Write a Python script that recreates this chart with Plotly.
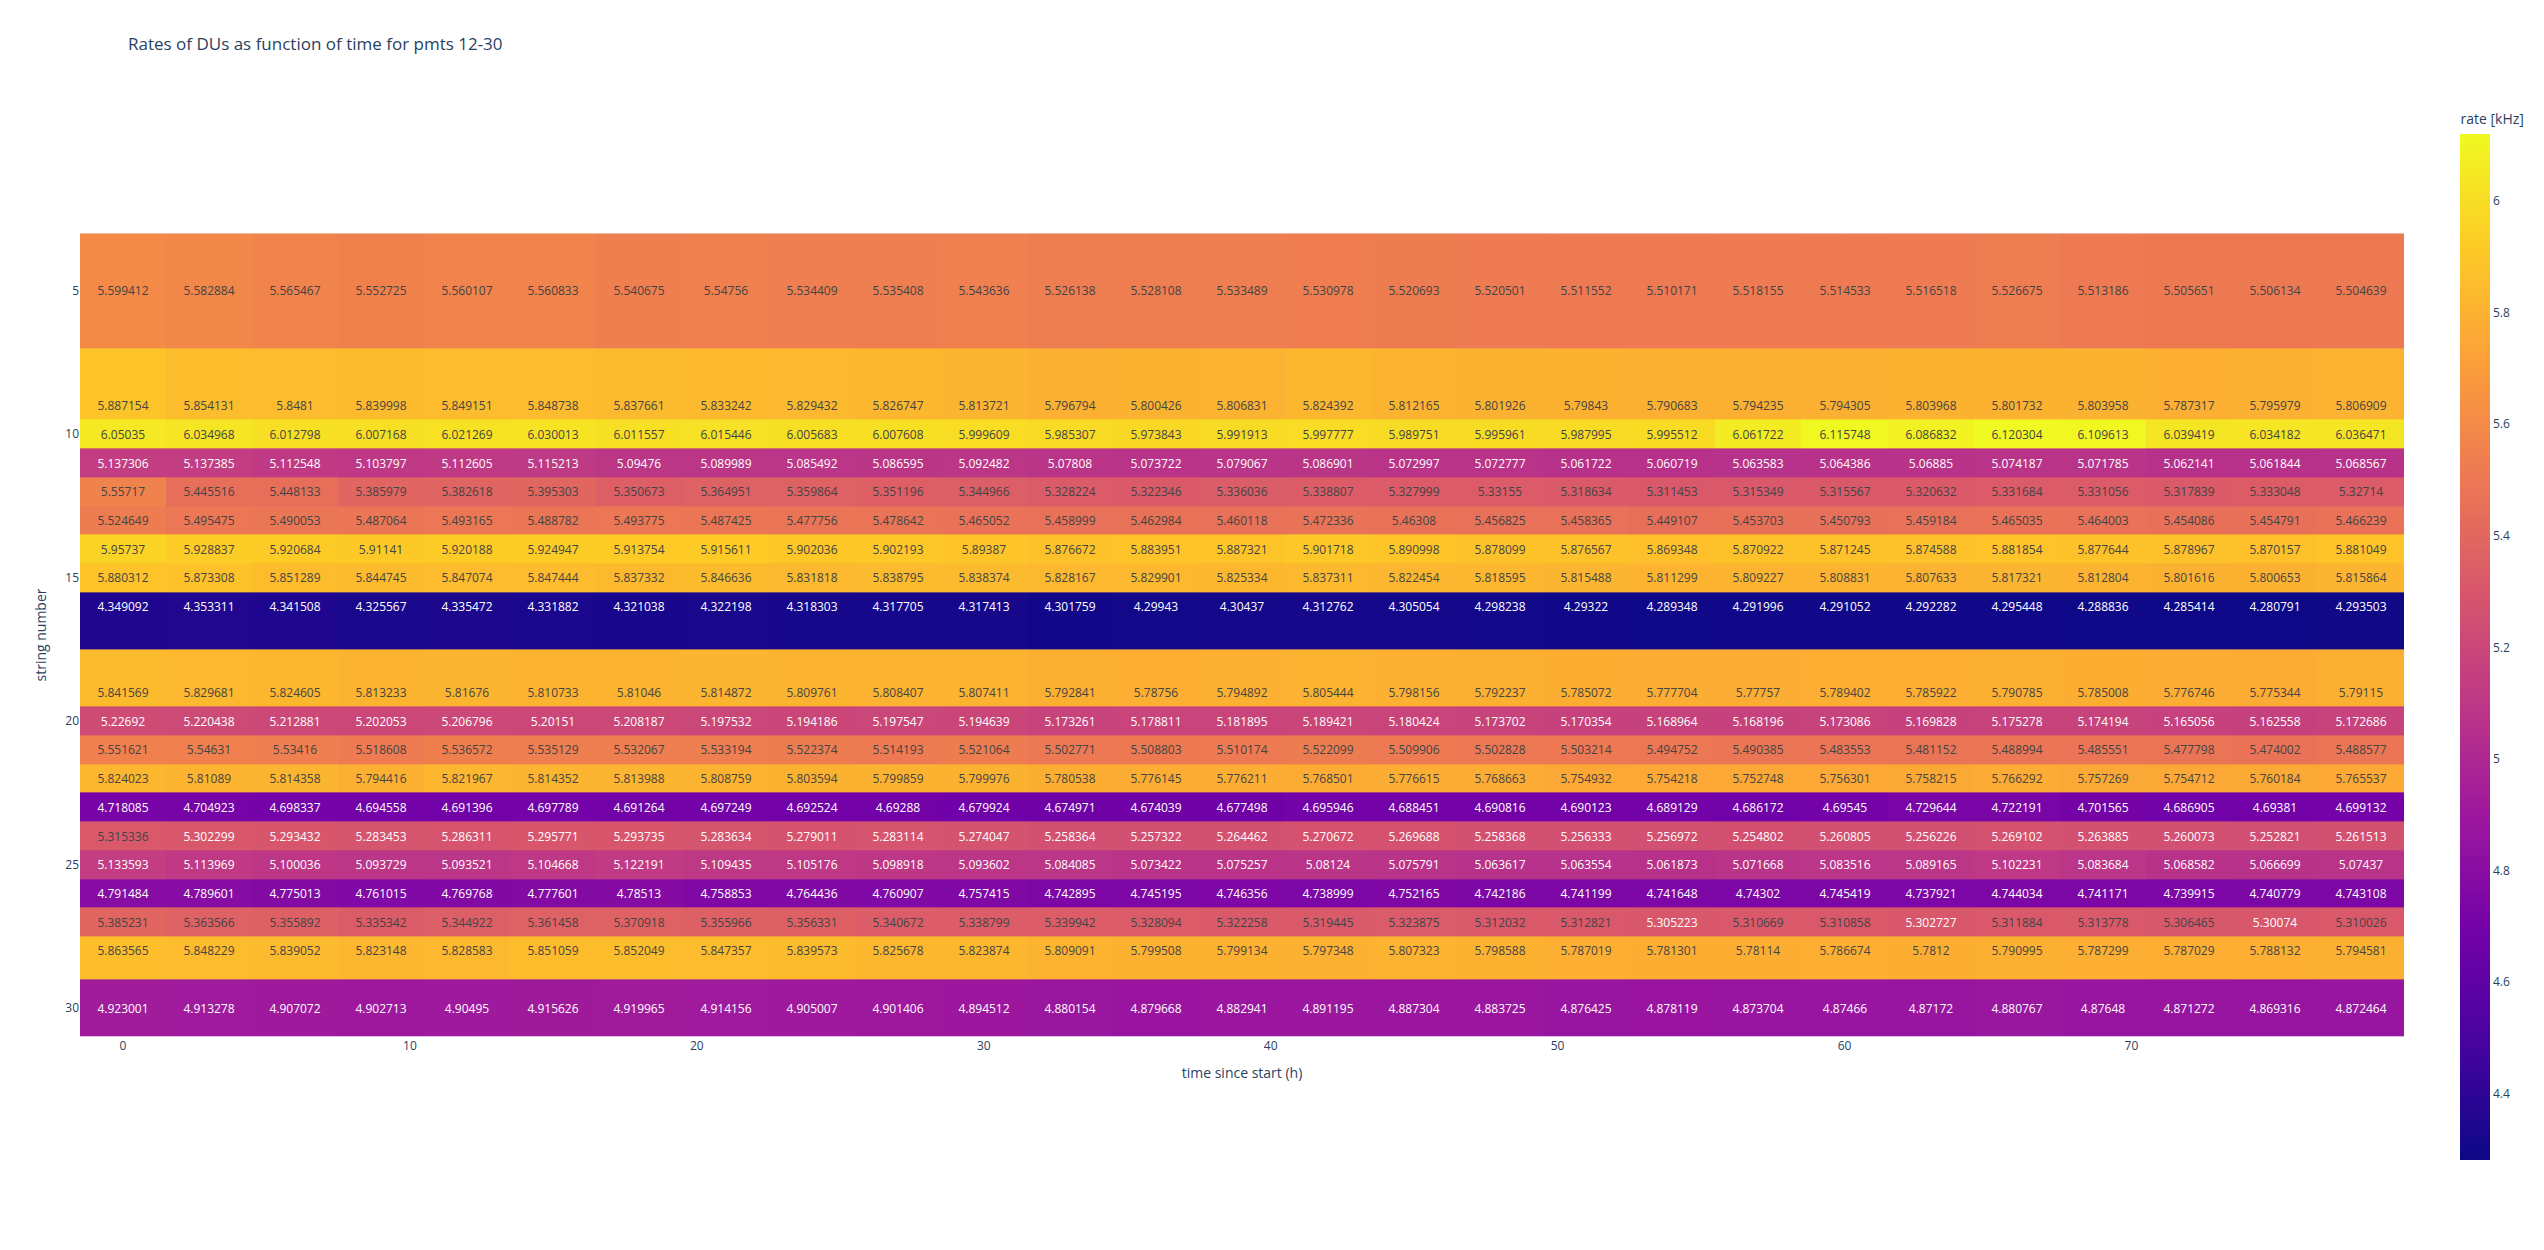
import plotly.graph_objects as go

times_h = [0, 3, 6, 9, 12, 15, 18, 21, 24, 27, 30, 33, 36, 39, 42, 45, 48, 51, 54, 57, 60, 63, 66, 69, 72, 75, 78]
strings = [5, 9, 10, 11, 12, 13, 14, 15, 16, 19, 20, 21, 22, 23, 24, 25, 26, 27, 28, 30]

r05 = [5.599412, 5.582884, 5.565467, 5.552725, 5.560107, 5.560833, 5.540675, 5.54756, 5.534409,
       5.535408, 5.543636, 5.526138, 5.528108, 5.533489, 5.530978, 5.520693, 5.520501, 5.511552,
       5.510171, 5.518155, 5.514533, 5.516518, 5.526675, 5.513186, 5.505651, 5.506134, 5.504639]
r09 = [5.887154, 5.854131, 5.8481, 5.839998, 5.849151, 5.848738, 5.837661, 5.833242, 5.829432,
       5.826747, 5.813721, 5.796794, 5.800426, 5.806831, 5.824392, 5.812165, 5.801926, 5.79843,
       5.790683, 5.794235, 5.794305, 5.803968, 5.801732, 5.803958, 5.787317, 5.795979, 5.806909]
r10 = [6.05035, 6.034968, 6.012798, 6.007168, 6.021269, 6.030013, 6.011557, 6.015446, 6.005683,
       6.007608, 5.999609, 5.985307, 5.973843, 5.991913, 5.997777, 5.989751, 5.995961, 5.987995,
       5.995512, 6.061722, 6.115748, 6.086832, 6.120304, 6.109613, 6.039419, 6.034182, 6.036471]
r11 = [5.137306, 5.137385, 5.112548, 5.103797, 5.112605, 5.115213, 5.09476, 5.089989, 5.085492,
       5.086595, 5.092482, 5.07808, 5.073722, 5.079067, 5.086901, 5.072997, 5.072777, 5.061722,
       5.060719, 5.063583, 5.064386, 5.06885, 5.074187, 5.071785, 5.062141, 5.061844, 5.068567]
r12 = [5.55717, 5.445516, 5.448133, 5.385979, 5.382618, 5.395303, 5.350673, 5.364951, 5.359864,
       5.351196, 5.344966, 5.328224, 5.322346, 5.336036, 5.338807, 5.327999, 5.33155, 5.318634,
       5.311453, 5.315349, 5.315567, 5.320632, 5.331684, 5.331056, 5.317839, 5.333048, 5.32714]
r13 = [5.524649, 5.495475, 5.490053, 5.487064, 5.493165, 5.488782, 5.493775, 5.487425, 5.477756,
       5.478642, 5.465052, 5.458999, 5.462984, 5.460118, 5.472336, 5.46308, 5.456825, 5.458365,
       5.449107, 5.453703, 5.450793, 5.459184, 5.465035, 5.464003, 5.454086, 5.454791, 5.466239]
r14 = [5.95737, 5.928837, 5.920684, 5.91141, 5.920188, 5.924947, 5.913754, 5.915611, 5.902036,
       5.902193, 5.89387, 5.876672, 5.883951, 5.887321, 5.901718, 5.890998, 5.878099, 5.876567,
       5.869348, 5.870922, 5.871245, 5.874588, 5.881854, 5.877644, 5.878967, 5.870157, 5.881049]
r15 = [5.880312, 5.873308, 5.851289, 5.844745, 5.847074, 5.847444, 5.837332, 5.846636, 5.831818,
       5.838795, 5.838374, 5.828167, 5.829901, 5.825334, 5.837311, 5.822454, 5.818595, 5.815488,
       5.811299, 5.809227, 5.808831, 5.807633, 5.817321, 5.812804, 5.801616, 5.800653, 5.815864]
r16 = [4.349092, 4.353311, 4.341508, 4.325567, 4.335472, 4.331882, 4.321038, 4.322198, 4.318303,
       4.317705, 4.317413, 4.301759, 4.29943, 4.30437, 4.312762, 4.305054, 4.298238, 4.29322,
       4.289348, 4.291996, 4.291052, 4.292282, 4.295448, 4.288836, 4.285414, 4.280791, 4.293503]
r19 = [5.841569, 5.829681, 5.824605, 5.813233, 5.81676, 5.810733, 5.81046, 5.814872, 5.809761,
       5.808407, 5.807411, 5.792841, 5.78756, 5.794892, 5.805444, 5.798156, 5.792237, 5.785072,
       5.777704, 5.77757, 5.789402, 5.785922, 5.790785, 5.785008, 5.776746, 5.775344, 5.79115]
r20 = [5.22692, 5.220438, 5.212881, 5.202053, 5.206796, 5.20151, 5.208187, 5.197532, 5.194186,
       5.197547, 5.194639, 5.173261, 5.178811, 5.181895, 5.189421, 5.180424, 5.173702, 5.170354,
       5.168964, 5.168196, 5.173086, 5.169828, 5.175278, 5.174194, 5.165056, 5.162558, 5.172686]
r21 = [5.551621, 5.54631, 5.53416, 5.518608, 5.536572, 5.535129, 5.532067, 5.533194, 5.522374,
       5.514193, 5.521064, 5.502771, 5.508803, 5.510174, 5.522099, 5.509906, 5.502828, 5.503214,
       5.494752, 5.490385, 5.483553, 5.481152, 5.488994, 5.485551, 5.477798, 5.474002, 5.488577]
r22 = [5.824023, 5.81089, 5.814358, 5.794416, 5.821967, 5.814352, 5.813988, 5.808759, 5.803594,
       5.799859, 5.799976, 5.780538, 5.776145, 5.776211, 5.768501, 5.776615, 5.768663, 5.754932,
       5.754218, 5.752748, 5.756301, 5.758215, 5.766292, 5.757269, 5.754712, 5.760184, 5.765537]
r23 = [4.718085, 4.704923, 4.698337, 4.694558, 4.691396, 4.697789, 4.691264, 4.697249, 4.692524,
       4.69288, 4.679924, 4.674971, 4.674039, 4.677498, 4.695946, 4.688451, 4.690816, 4.690123,
       4.689129, 4.686172, 4.69545, 4.729644, 4.722191, 4.701565, 4.686905, 4.69381, 4.699132]
r24 = [5.315336, 5.302299, 5.293432, 5.283453, 5.286311, 5.295771, 5.293735, 5.283634, 5.279011,
       5.283114, 5.274047, 5.258364, 5.257322, 5.264462, 5.270672, 5.269688, 5.258368, 5.256333,
       5.256972, 5.254802, 5.260805, 5.256226, 5.269102, 5.263885, 5.260073, 5.252821, 5.261513]
r25 = [5.133593, 5.113969, 5.100036, 5.093729, 5.093521, 5.104668, 5.122191, 5.109435, 5.105176,
       5.098918, 5.093602, 5.084085, 5.073422, 5.075257, 5.08124, 5.075791, 5.063617, 5.063554,
       5.061873, 5.071668, 5.083516, 5.089165, 5.102231, 5.083684, 5.068582, 5.066699, 5.07437]
r26 = [4.791484, 4.789601, 4.775013, 4.761015, 4.769768, 4.777601, 4.78513, 4.758853, 4.764436,
       4.760907, 4.757415, 4.742895, 4.745195, 4.746356, 4.738999, 4.752165, 4.742186, 4.741199,
       4.741648, 4.74302, 4.745419, 4.737921, 4.744034, 4.741171, 4.739915, 4.740779, 4.743108]
r27 = [5.385231, 5.363566, 5.355892, 5.335342, 5.344922, 5.361458, 5.370918, 5.355966, 5.356331,
       5.340672, 5.338799, 5.339942, 5.328094, 5.322258, 5.319445, 5.323875, 5.312032, 5.312821,
       5.305223, 5.310669, 5.310858, 5.302727, 5.311884, 5.313778, 5.306465, 5.30074, 5.310026]
r28 = [5.863565, 5.848229, 5.839052, 5.823148, 5.828583, 5.851059, 5.852049, 5.847357, 5.839573,
       5.825678, 5.823874, 5.809091, 5.799508, 5.799134, 5.797348, 5.807323, 5.798588, 5.787019,
       5.781301, 5.78114, 5.786674, 5.7812, 5.790995, 5.787299, 5.787029, 5.788132, 5.794581]
r30 = [4.923001, 4.913278, 4.907072, 4.902713, 4.90495, 4.915626, 4.919965, 4.914156, 4.905007,
       4.901406, 4.894512, 4.880154, 4.879668, 4.882941, 4.891195, 4.887304, 4.883725, 4.876425,
       4.878119, 4.873704, 4.87466, 4.87172, 4.880767, 4.87648, 4.871272, 4.869316, 4.872464]

rates = [r05, r09, r10, r11, r12, r13, r14, r15, r16, r19, r20, r21, r22,
         r23, r24, r25, r26, r27, r28, r30]
labels = [[str(v) for v in row] for row in rates]

fig = go.Figure(go.Heatmap(
    z=rates, x=times_h, y=strings,
    text=labels, texttemplate="%{text}",
    colorscale="Plasma",
    colorbar=dict(title=dict(text="rate [kHz]")),
    hovertemplate="time since start (h): %{x}<br>string number: %{y}<br>rate [kHz]: %{z}<extra></extra>",
))

W, H = 2536, 1242
fig.update_layout(
    template="plotly",
    width=W, height=H,
    margin=dict(l=72, r=140, t=92, b=80, autoexpand=False),
    title=dict(text="Rates of DUs as function of time for pmts 12-30",
               x=120 / W, xanchor="left", y=1 - 36 / H, yanchor="middle"),
    xaxis=dict(title=dict(text="time since start (h)"), constrain="domain"),
    yaxis=dict(title=dict(text="string number"), autorange="reversed",
               scaleanchor="x", constrain="domain"),
)

fig.write_html("out.html")
